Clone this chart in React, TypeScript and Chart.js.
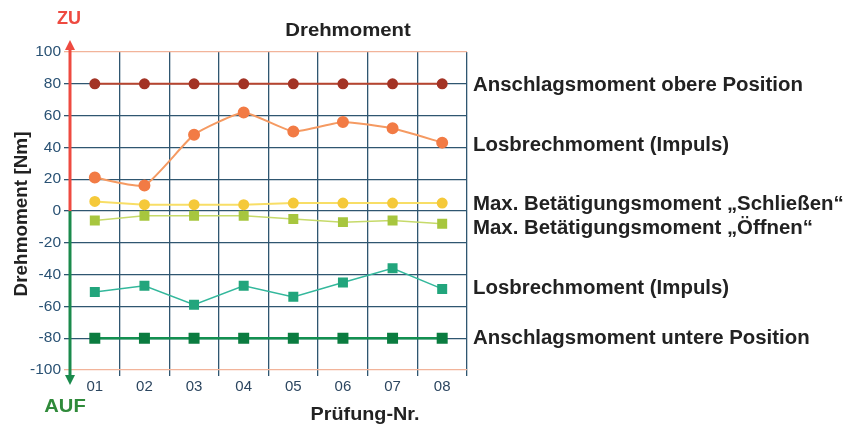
import React, { useEffect, useRef } from "react";
import { Chart, registerables } from "chart.js";

Chart.register(...registerables);

const categories = ["01", "02", "03", "04", "05", "06", "07", "08"];
const anschlagOben = [80, 80, 80, 80, 80, 80, 80, 80];
const losbrechZu = [21, 16, 48, 62, 50, 56, 52, 43];
const schliessen = [6, 4, 4, 4, 5, 5, 5, 5];
const oeffnen = [-6, -3, -3, -3, -5, -7, -6, -8];
const losbrechAuf = [-51, -47, -59, -47, -54, -45, -36, -49];
const anschlagUnten = [-80, -80, -80, -80, -80, -80, -80, -80];

const seriesLabels = [
  "Anschlagsmoment obere Position",
  "Losbrechmoment (Impuls)",
  "Max. Betätigungsmoment \u201eSchließen\u201c",
  "Max. Betätigungsmoment \u201eÖffnen\u201c",
  "Losbrechmoment (Impuls)",
  "Anschlagsmoment untere Position",
];
// value positions (on the y scale) where the right-hand labels sit
const labelAnchors = [79, 41, 4, -11, -49, -80];

const FONT = "'Liberation Sans', Arial, sans-serif";

function drawText(
  ctx: CanvasRenderingContext2D,
  text: string,
  x: number,
  y: number,
  size: number,
  sx: number,
  color: string,
  align: CanvasTextAlign,
  rot = 0
) {
  ctx.save();
  ctx.translate(x, y);
  if (rot) ctx.rotate(rot);
  ctx.scale(sx, 1);
  ctx.font = `bold ${size}px ${FONT}`;
  ctx.fillStyle = color;
  ctx.textAlign = align;
  ctx.textBaseline = "middle";
  ctx.fillText(text, 0, 0);
  ctx.restore();
}

const annotations = {
  id: "annotations",
  afterDraw(chart: any) {
    const ctx = chart.ctx;
    const area = chart.chartArea;
    const y = chart.scales.y;
    const x0 = area.left;
    const yZero = y.getPixelForValue(0);
    ctx.save();
    // red arrow up
    ctx.strokeStyle = "#ee4a40";
    ctx.fillStyle = "#ee4a40";
    ctx.lineWidth = 3;
    ctx.beginPath();
    ctx.moveTo(x0, yZero);
    ctx.lineTo(x0, area.top - 4);
    ctx.stroke();
    ctx.beginPath();
    ctx.moveTo(x0 - 5, area.top - 2);
    ctx.lineTo(x0 + 5, area.top - 2);
    ctx.lineTo(x0, area.top - 12);
    ctx.closePath();
    ctx.fill();
    // green arrow down
    ctx.strokeStyle = "#1a8a4c";
    ctx.fillStyle = "#1a8a4c";
    ctx.beginPath();
    ctx.moveTo(x0, yZero);
    ctx.lineTo(x0, area.bottom + 6);
    ctx.stroke();
    ctx.beginPath();
    ctx.moveTo(x0 - 5, area.bottom + 5);
    ctx.lineTo(x0 + 5, area.bottom + 5);
    ctx.lineTo(x0, area.bottom + 15);
    ctx.closePath();
    ctx.fill();
    ctx.restore();

    // ZU / AUF
    drawText(ctx, "ZU", x0 - 1, 19, 18, 1.0, "#ee4a40", "center");
    drawText(ctx, "AUF", x0 - 5, 407, 18, 1.12, "#2f8a3a", "center");

    // titles
    drawText(ctx, "Drehmoment", 348, 31, 18, 1.13, "#222", "center");
    drawText(ctx, "Prüfung-Nr.", 365, 415, 18, 1.1, "#222", "center");
    drawText(
      ctx,
      "Drehmoment [Nm]",
      22,
      (area.top + area.bottom) / 2 + 3,
      18,
      1.05,
      "#222",
      "center",
      -Math.PI / 2
    );

    // right labels
    seriesLabels.forEach((t, i) => {
      drawText(ctx, t, area.right + 6, y.getPixelForValue(labelAnchors[i]), 20, 1.02, "#222", "left");
    });
  },
};

export default function App() {
  const ref = useRef<HTMLCanvasElement>(null);
  useEffect(() => {
    document.body.style.margin = "0";
    const gridColor = "#2f5670";
    const chart = new Chart(ref.current!, {
      type: "line",
      data: {
        labels: categories,
        datasets: [
          {
            data: anschlagOben,
            borderColor: "#b8452f",
            backgroundColor: "#a33325",
            pointBorderColor: "#a33325",
            borderWidth: 2,
            pointRadius: 4.5,
            pointStyle: "circle",
          },
          {
            data: losbrechZu,
            borderColor: "#f59a62",
            backgroundColor: "#f27b45",
            pointBorderColor: "#f27b45",
            borderWidth: 2,
            pointRadius: 5,
            tension: 0.15,
          },
          {
            data: schliessen,
            borderColor: "#f8de66",
            backgroundColor: "#f5c93a",
            pointBorderColor: "#f5c93a",
            borderWidth: 2,
            pointRadius: 4.5,
          },
          {
            data: oeffnen,
            borderColor: "#c6da6a",
            backgroundColor: "#a7c63e",
            pointBorderColor: "#a7c63e",
            borderWidth: 1.5,
            pointStyle: "rect",
            pointRadius: 6,
          },
          {
            data: losbrechAuf,
            borderColor: "#34b89c",
            backgroundColor: "#22a57c",
            pointBorderColor: "#22a57c",
            borderWidth: 1.5,
            pointStyle: "rect",
            pointRadius: 6,
          },
          {
            data: anschlagUnten,
            borderColor: "#139050",
            backgroundColor: "#0b7c40",
            pointBorderColor: "#0b7c40",
            borderWidth: 2.5,
            pointStyle: "rect",
            pointRadius: 6,
          },
        ],
      },
      options: {
        animation: false,
        responsive: false,
        layout: { padding: { top: 52, right: 386, left: 0, bottom: 0 } },
        plugins: { legend: { display: false }, tooltip: { enabled: false } },
        scales: {
          x: {
            offset: true,
            grid: {
              offset: true,
              color: gridColor,
              lineWidth: 1.3,
              tickLength: 6,
            },
            border: { display: false },
            ticks: {
              color: "#2c4660",
              font: { family: FONT, size: 15 },
              padding: 2,
            },
            afterFit(scale: any) {
              scale.height = 60;
            },
          },
          y: {
            min: -100,
            max: 100,
            ticks: {
              stepSize: 20,
              color: "#2a5274",
              font: { family: FONT, size: 15.5 },
              padding: 3,
            },
            grid: {
              color: (c: any) =>
                c.tick && Math.abs(c.tick.value) === 100 ? "#f2b49a" : gridColor,
              lineWidth: 1.3,
              tickLength: 6,
            },
            border: { display: false },
            afterFit(scale: any) {
              scale.width = 70;
            },
          },
        },
      },
      plugins: [annotations],
    });
    return () => chart.destroy();
  }, []);
  return (
    <div style={{ width: 853, height: 430 }}>
      <canvas ref={ref} width={853} height={430} />
    </div>
  );
}
